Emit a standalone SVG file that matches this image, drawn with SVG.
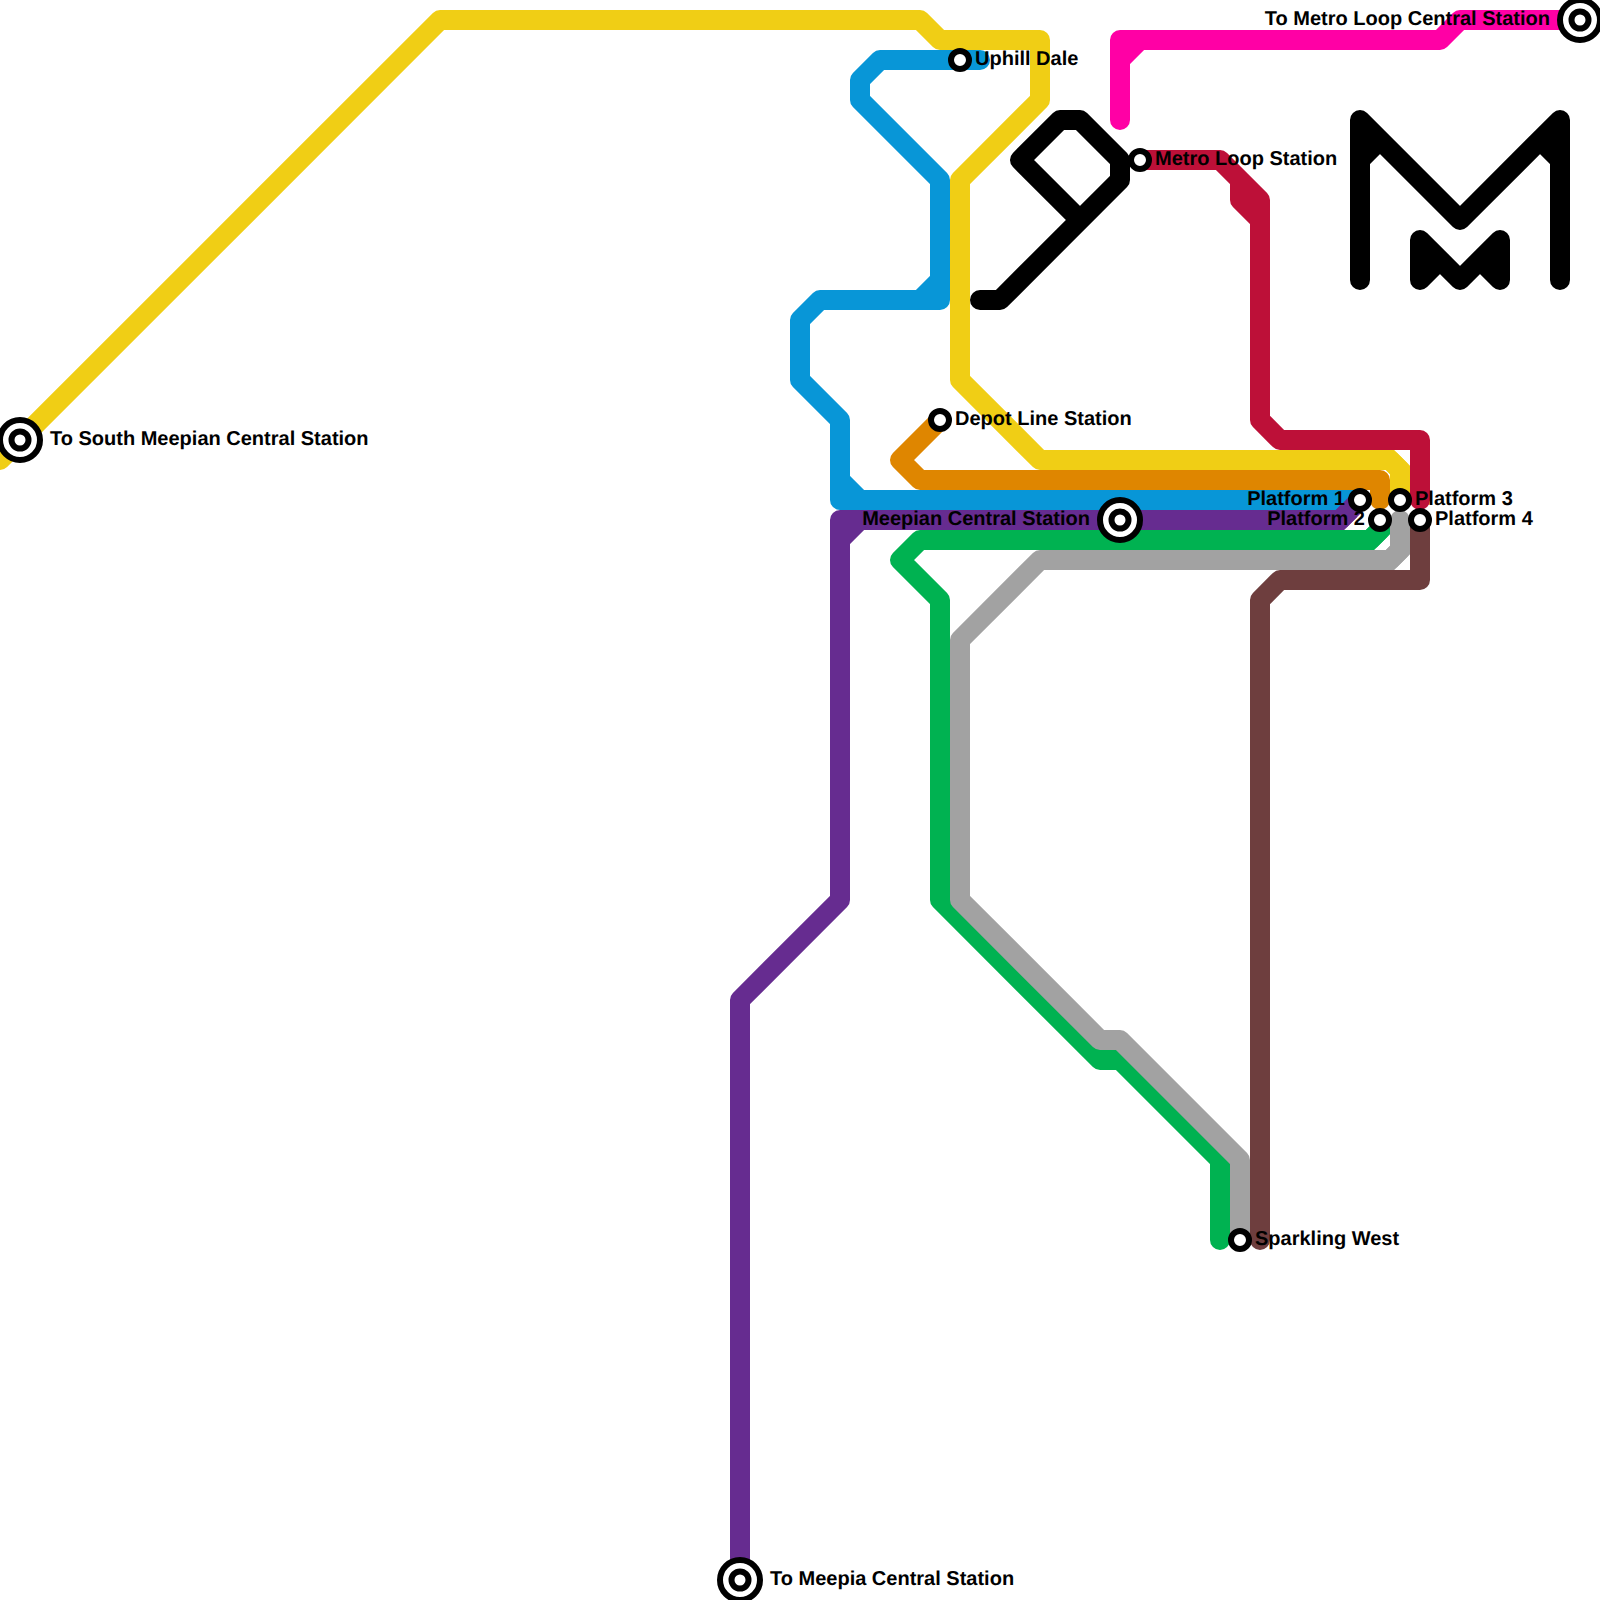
<svg xmlns="http://www.w3.org/2000/svg" width="1600" height="1600" viewBox="0 0 1600 1600">
<style>
.l{fill:none;stroke-width:20;stroke-linecap:round;stroke-linejoin:round}
.m{fill:none;stroke-width:20;stroke-linecap:butt;stroke-linejoin:miter}
.s{fill:#fff;stroke:#000;stroke-width:6}
.t{font-family:"Liberation Sans",Arial,sans-serif;font-weight:700;font-size:20px;fill:#000;text-rendering:geometricPrecision}
.e{text-anchor:end}
</style>
<rect width="1600" height="1600" fill="#fff"/>
<g id="connectors">
<path id="line-yellow" class="l" stroke="#f0ce15" d="M0 460L440 20H920L940 40H1040V100L960 180V380L1040 460H1390L1400 470V500"/>
<path class="m" stroke="#f0ce15" d="M1380 460H1390L1400 470V480"/>
<path id="line-blue" class="l" stroke="#0896d7" d="M980 60H880L860 80V100L940 180V300H820L800 320V380L840 420V500H1360M940 280L920 300M840 480L860 500"/>
<path id="line-orange" class="l" stroke="#df8600" d="M940 420L900 460L920 480H1380V500"/>
<path id="line-purple" class="l" stroke="#662c90" d="M740 1580V1000L840 900V520H1340L1360 500M840 540L860 520"/>
<path class="m" stroke="#662c90" d="M1330 520H1340L1350 510"/>
<path id="line-green" class="l" stroke="#00b251" d="M1220 1240V1160L1120 1060H1100L940 900V600L900 560L920 540H1370L1380 530V520"/>
<path class="m" stroke="#00b251" d="M1360 540H1370L1380 530V525"/>
<path id="line-grey" class="l" stroke="#a2a2a2" d="M1240 1240V1160L1120 1040H1100L960 900V640L1040 560H1390L1400 550V520"/>
<path class="m" stroke="#a2a2a2" d="M1380 560H1390L1400 550V530"/>
<path id="line-brown" class="l" stroke="#6e3e3e" d="M1260 1240V600L1280 580H1420V520"/>
<path id="line-red" class="l" stroke="#bd1038" d="M1140 160H1220L1260 200V420L1280 440H1420V500M1220 160L1240 180V200L1260 220"/>
<path id="line-pink" class="l" stroke="#ff00a5" d="M1120 120V40H1440L1460 20H1580M1120 60L1140 40"/>
<path id="line-black" class="l" stroke="#000" d="M980 300H1000L1120 180V160L1080 120H1060L1020 160L1080 220"/>
<path id="logo-large" class="l" stroke="#000" d="M1360 280V120L1460 220L1560 120V280M1360 160L1380 140M1540 140L1560 160"/>
<path id="logo-small" class="l" stroke="#000" d="M1420 280V240L1460 280L1500 240V280L1480 260L1460 280L1440 260Z"/>
</g>
<g id="south-meepian"><circle class="s" cx="20" cy="440" r="20"/><circle class="s" cx="20" cy="440" r="8.5"/><text class="t" x="50" y="445">To South Meepian Central Station</text></g>
<g id="metro-loop-central"><circle class="s" cx="1580" cy="20" r="20"/><circle class="s" cx="1580" cy="20" r="8.5"/><text class="t e" x="1550" y="25">To Metro Loop Central Station</text></g>
<g id="meepia-central"><circle class="s" cx="740" cy="1580" r="20"/><circle class="s" cx="740" cy="1580" r="8.5"/><text class="t" x="770" y="1585">To Meepia Central Station</text></g>
<g id="meepian-central"><circle class="s" cx="1120" cy="520" r="20"/><circle class="s" cx="1120" cy="520" r="8.5"/><text class="t e" x="1090" y="525">Meepian Central Station</text></g>
<g id="uphill-dale"><circle class="s" cx="960" cy="60" r="9"/><text class="t" x="975" y="65">Uphill Dale</text></g>
<g id="metro-loop"><circle class="s" cx="1140" cy="160" r="9"/><text class="t" x="1155" y="165">Metro Loop Station</text></g>
<g id="depot-line"><circle class="s" cx="940" cy="420" r="9"/><text class="t" x="955" y="425">Depot Line Station</text></g>
<g id="platform-1"><circle class="s" cx="1360" cy="500" r="9"/><text class="t e" x="1345" y="505">Platform 1</text></g>
<g id="platform-2"><circle class="s" cx="1380" cy="520" r="9"/><text class="t e" x="1365" y="525">Platform 2</text></g>
<g id="platform-3"><circle class="s" cx="1400" cy="500" r="9"/><text class="t" x="1415" y="505">Platform 3</text></g>
<g id="platform-4"><circle class="s" cx="1420" cy="520" r="9"/><text class="t" x="1435" y="525">Platform 4</text></g>
<g id="sparkling-west"><circle class="s" cx="1240" cy="1240" r="9"/><text class="t" x="1255" y="1245">Sparkling West</text></g>
</svg>
